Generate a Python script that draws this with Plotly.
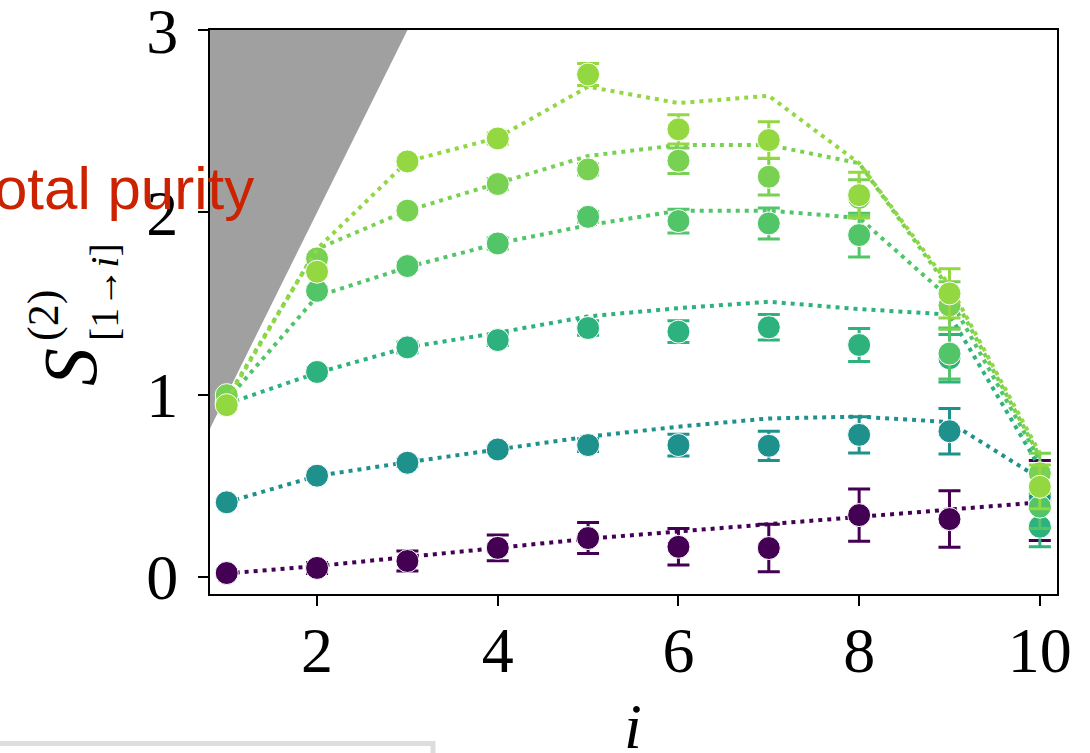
import plotly.graph_objects as go

# subsystem size i = 1..10
sites = [1, 2, 3, 4, 5, 6, 7, 8, 9, 10]

# measured second Renyi entropy S^(2)_[1->i] per curve, with error bars
s_a = [0.022, 0.05, 0.088, 0.16, 0.214, 0.166, 0.159, 0.34, 0.318, 0.42]
e_a = [0.01, 0.03, 0.055, 0.07, 0.085, 0.10, 0.13, 0.143, 0.155, 0.22]
s_b = [0.41, 0.556, 0.627, 0.70, 0.724, 0.724, 0.72, 0.78, 0.80, 0.44]
e_b = [0.01, 0.01, 0.02, 0.02, 0.035, 0.06, 0.08, 0.10, 0.125, 0.15]
s_c = [0.95, 1.125, 1.26, 1.30, 1.366, 1.346, 1.37, 1.273, 1.20, 0.276]
e_c = [0.01, 0.02, 0.03, 0.03, 0.04, 0.06, 0.07, 0.09, 0.13, 0.11]
s_d = [0.96, 1.57, 1.706, 1.83, 1.976, 1.953, 1.94, 1.876, 1.226, 0.386]
e_d = [0.01, 0.02, 0.02, 0.03, 0.03, 0.065, 0.085, 0.12, 0.14, 0.12]
s_e = [0.998, 1.748, 2.01, 2.156, 2.236, 2.284, 2.196, 2.08, 1.49, 0.569]
e_e = [0.01, 0.02, 0.02, 0.03, 0.03, 0.07, 0.10, 0.10, 0.13, 0.11]
s_f = [0.943, 1.675, 2.28, 2.406, 2.757, 2.456, 2.397, 2.095, 1.556, 0.495]
e_f = [0.01, 0.02, 0.02, 0.03, 0.06, 0.08, 0.10, 0.125, 0.135, 0.12]

# theory curves (dotted)
t_a = [0.02, 0.06, 0.11, 0.16, 0.21, 0.25, 0.29, 0.33, 0.37, 0.41]
t_b = [0.41, 0.555, 0.63, 0.70, 0.77, 0.825, 0.87, 0.88, 0.85, 0.54]
t_c = [0.95, 1.12, 1.26, 1.34, 1.43, 1.475, 1.51, 1.47, 1.44, 0.60]
t_d = [0.97, 1.54, 1.70, 1.83, 1.93, 2.01, 2.01, 1.97, 1.53, 0.64]
t_e = [0.98, 1.80, 2.01, 2.16, 2.31, 2.37, 2.37, 2.27, 1.58, 0.66]
t_f = [0.97, 1.80, 2.28, 2.41, 2.69, 2.60, 2.64, 2.27, 1.60, 0.68]

# forbidden region above the total-purity bound S = i
bound_x = [0, 3.2, 0]
bound_y = [0, 3.2, 3.2]

x_ticks = [2, 4, 6, 8, 10]
y_ticks = [0, 1, 2, 3]

colors = ["#440154", "#1f918d", "#2db27d", "#52c569", "#78d152", "#93d741"]
measured = [s_a, s_b, s_c, s_d, s_e, s_f]
errors = [e_a, e_b, e_c, e_d, e_e, e_f]
theory = [t_a, t_b, t_c, t_d, t_e, t_f]

fig = go.Figure()

fig.add_trace(go.Scatter(
    x=bound_x, y=bound_y, mode="lines", fill="toself",
    fillcolor="#a0a0a0", line=dict(width=0, color="#a0a0a0"),
    hoverinfo="skip", showlegend=False))

for col, s, e, t in zip(colors, measured, errors, theory):
    fig.add_trace(go.Scatter(
        x=sites, y=t, mode="lines",
        line=dict(color=col, width=4, dash="4px,5px"),
        showlegend=False, hoverinfo="skip"))
    fig.add_trace(go.Scatter(
        x=sites, y=s, mode="markers",
        marker=dict(size=23, color=col, line=dict(color="white", width=1)),
        error_y=dict(type="data", array=e, color=col, thickness=3, width=11),
        showlegend=False))

L, R, T, B = 210, 33, 30, 159
W, H = 1090, 753
pw, ph = W - L - R, H - T - B


def px(xp):
    return (xp - L) / pw


def py(yp):
    return 1 - (yp - T) / ph


tick_font = dict(family="Liberation Serif", size=64, color="black")

fig.update_layout(
    width=W, height=H,
    margin=dict(l=L, r=R, t=T, b=B, pad=0, autoexpand=False),
    paper_bgcolor="white", plot_bgcolor="white",
    showlegend=False,
    xaxis=dict(range=[0.815, 10.19], tickvals=x_ticks, ticks="outside",
               ticklen=10, tickwidth=2, tickcolor="black",
               showline=True, linewidth=2, linecolor="black", mirror=True,
               showgrid=False, zeroline=False, tickfont=tick_font,
               ticklabelstandoff=-11, ticklabeloverflow="allow",
               automargin=False),
    yaxis=dict(range=[-0.093, 3.001], tickvals=y_ticks, ticks="outside",
               ticklen=10, tickwidth=2, tickcolor="black",
               showline=True, linewidth=2, linecolor="black", mirror=True,
               showgrid=False, zeroline=False, tickfont=tick_font,
               ticklabelstandoff=7, ticklabeloverflow="allow",
               automargin=False),
)

serif_it = dict(family="Liberation Serif", color="black")
annotations = [
    # x-axis title
    dict(text="<i>i</i>", x=px(633), y=py(726), font=dict(size=64, **serif_it)),
    # y-axis title S^(2)_[1->i], built from stacked pieces
    dict(text="<i>S</i>", x=px(70), y=py(367), textangle=-90,
         font=dict(size=76, **serif_it)),
    dict(text="(2)", x=px(43), y=py(316), textangle=-90,
         font=dict(size=44, **serif_it)),
    dict(text="[1→<i>i</i>]", x=px(104), y=py(292), textangle=-90,
         font=dict(size=40, **serif_it)),
    # label from the neighbouring panel
    dict(text="Total purity", x=px(-38), y=py(188), xanchor="left",
         font=dict(family="Liberation Sans", size=60, color="#cc2200")),
]
for a in annotations:
    a.setdefault("xanchor", "center")
    a.setdefault("yanchor", "middle")
    a.update(xref="paper", yref="paper", showarrow=False)
fig.update_layout(annotations=annotations)

# light frame of the panel below
fig.add_shape(type="rect", xref="paper", yref="paper",
              x0=px(-10), x1=px(433), y0=py(743.5), y1=py(790),
              line=dict(color="#dddddd", width=5), fillcolor="rgba(0,0,0,0)")

fig.write_html("out.html")
